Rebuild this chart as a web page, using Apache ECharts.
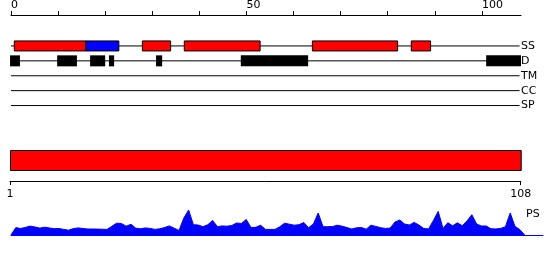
<!DOCTYPE html>
<html>
<head>
<meta charset="utf-8">
<script src="https://cdn.jsdelivr.net/npm/echarts@6/dist/echarts.min.js"></script>
<style>html,body{margin:0;padding:0;background:#fff;}#c{width:550px;height:260px;}</style>
</head>
<body>
<div id="c"></div>
<script>
// ---- data ----
const tracks = ['SS', 'D', 'TM', 'CC', 'SP'];
const seqLength = 108;
const topTicks = [0, 10, 20, 30, 40, 50, 60, 70, 80, 90, 100];
const topLabels = [0, 50, 100];
const bottomTicks = [1, 108];
const helices = [[0.7, 15.9], [27.9, 33.9], [36.8, 52.9], [64.0, 82.1], [85.0, 89.1]];
const strands = [[15.9, 22.9]];
const disorder = [[-0.2, 1.9], [9.8, 14.0], [16.8, 20.0], [20.8, 21.9], [30.8, 32.1], [48.8, 63.1], [100.9, 108.3]];
const domains = [[1, 108]];
const psValues = [
  0, 7.4, 6.5, 7.6, 8.9, 8.0, 6.9, 7.8, 7.1, 6.3,
  6.5, 5.6, 4.8, 6.4, 7.1, 6.5, 6.0, 6.0, 5.9, 5.8,
  5.6, 8.7, 11.8, 11.5, 8.8, 10.7, 6.8, 6.2, 7.1, 6.6,
  5.6, 6.2, 7.5, 9.1, 6.8, 4.5, 16.9, 25, 10.3, 10,
  8.3, 10.3, 14.6, 8.3, 9.1, 8.8, 9.5, 12, 11.5, 15.6,
  7.5, 7.7, 9.8, 5.6, 5.6, 5.6, 8.2, 11.8, 10.8, 9.8,
  10.3, 12.5, 7.3, 11, 22, 8.3, 8.3, 8.5, 9.8, 8.8,
  7.4, 6, 7.2, 7.5, 5.8, 9.8, 8.6, 7.3, 6.6, 6.9,
  13, 15, 11, 10, 12.6, 9.9, 6.5, 6.1, 14.5, 23.6,
  6.6, 12.3, 9.2, 12.2, 9.3, 14, 20.3, 11, 9, 9,
  6.2, 6.1, 6.6, 8.2, 22, 8.6, 5.4, 0
];

// ---- chart ----
const FONT = 'DejaVu Sans';
const chart = echarts.init(document.getElementById('c'), null, {renderer: 'canvas'});

function boxRenderer(fill, stroke, halfH) {
  return function (params, api) {
    const p1 = api.coord([api.value(0), api.value(2)]);
    const p2 = api.coord([api.value(1), api.value(2)]);
    return {
      type: 'rect',
      shape: {x: p1[0], y: p1[1] - halfH, width: p2[0] - p1[0], height: halfH * 2},
      style: stroke ? {fill: fill, stroke: stroke, lineWidth: 1} : {fill: fill}
    };
  };
}

const option = {
  animation: false,
  backgroundColor: '#fff',
  title: {
    text: 'PS', left: 521, top: 204,
    textStyle: {fontFamily: FONT, fontSize: 11, fontWeight: 'normal', color: '#000'}
  },
  grid: [
    {left: 11, width: 510, top: 38, height: 75},
    {left: 10, width: 510.7, top: 150, height: 31},
    {left: 11, width: 532, top: 205, height: 30}
  ],
  xAxis: [
    {
      gridIndex: 0, type: 'value', position: 'top', offset: 23.5,
      min: 0, max: 108.3,
      axisLine: {show: true, lineStyle: {color: '#000', width: 1}},
      axisTick: {show: true, length: 4, customValues: topTicks, lineStyle: {color: '#000'}},
      axisLabel: {show: true, customValues: topLabels, align: 'left', margin: 4,
        fontFamily: FONT, fontSize: 11, color: '#000'},
      splitLine: {show: false}
    },
    {
      gridIndex: 1, type: 'value', position: 'bottom',
      min: 1, max: 108,
      axisLine: {show: true, lineStyle: {color: '#000', width: 1}},
      axisTick: {show: true, length: 4, customValues: bottomTicks, lineStyle: {color: '#000'}},
      axisLabel: {show: true, customValues: bottomTicks, margin: 8,
        fontFamily: FONT, fontSize: 11, color: '#000'},
      splitLine: {show: false}
    },
    {
      gridIndex: 2, type: 'value', position: 'bottom',
      min: 1, max: 1 + 532 / 4.8,
      axisLine: {show: true, lineStyle: {color: '#0000ff', width: 1}},
      axisTick: {show: false}, axisLabel: {show: false}, splitLine: {show: false}
    }
  ],
  yAxis: [
    {
      gridIndex: 0, type: 'category', data: tracks, inverse: true, position: 'right',
      axisLine: {show: false}, axisTick: {show: false},
      axisLabel: {show: true, margin: 0, fontFamily: FONT, fontSize: 11, color: '#000'},
      splitLine: {show: false}
    },
    {gridIndex: 1, type: 'value', min: 0, max: 1, show: false},
    {gridIndex: 2, type: 'value', min: 0, max: 30, show: false}
  ],
  series: [
    {
      type: 'custom', xAxisIndex: 0, yAxisIndex: 0, clip: false,
      data: tracks.map((t, i) => [0, seqLength, i]),
      renderItem: function (params, api) {
        const p1 = api.coord([api.value(0), api.value(2)]);
        const p2 = api.coord([api.value(1), api.value(2)]);
        return {type: 'line', shape: {x1: p1[0], y1: p1[1], x2: p2[0], y2: p2[1]},
          style: {stroke: '#000', lineWidth: 1}};
      }
    },
    {
      type: 'custom', xAxisIndex: 0, yAxisIndex: 0, clip: false,
      data: helices.map(d => [d[0], d[1], 0]),
      renderItem: boxRenderer('#ff0000', '#000', 5)
    },
    {
      type: 'custom', xAxisIndex: 0, yAxisIndex: 0, clip: false,
      data: strands.map(d => [d[0], d[1], 0]),
      renderItem: boxRenderer('#0000ff', '#000', 5)
    },
    {
      type: 'custom', xAxisIndex: 0, yAxisIndex: 0, clip: false,
      data: disorder.map(d => [d[0], d[1], 1]),
      renderItem: boxRenderer('#000', null, 5.5)
    },
    {
      type: 'custom', xAxisIndex: 1, yAxisIndex: 1, clip: false,
      data: domains,
      renderItem: function (params, api) {
        const p1 = api.coord([api.value(0), 1]);
        const p2 = api.coord([api.value(1), 1]);
        return {type: 'rect',
          shape: {x: p1[0] + 0.5, y: params.coordSys.y + 0.5, width: p2[0] - p1[0], height: 20},
          style: {fill: '#ff0000', stroke: '#000', lineWidth: 1}};
      }
    },
    {
      type: 'line', xAxisIndex: 2, yAxisIndex: 2,
      data: psValues.map((v, i) => [i + 1, v]),
      symbol: 'none', smooth: false,
      lineStyle: {color: '#0000ff', width: 1},
      areaStyle: {color: '#0000ff', opacity: 1}
    }
  ]
};
chart.setOption(option);
</script>
</body>
</html>
